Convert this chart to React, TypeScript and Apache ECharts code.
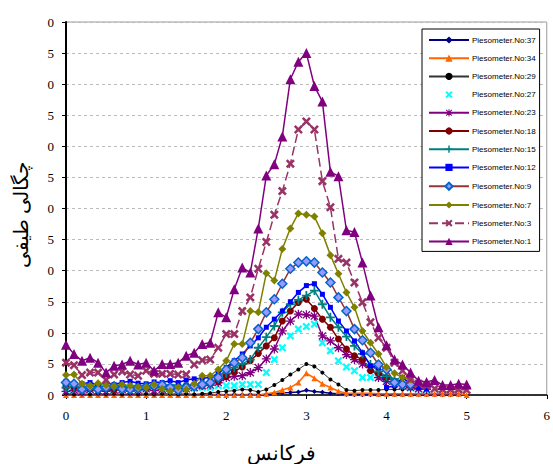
import React, { useEffect, useRef } from "react";
import * as echarts from "echarts";

const xs = [0, 0.1, 0.2, 0.3, 0.4, 0.5, 0.6, 0.7, 0.8, 0.9, 1, 1.1, 1.2, 1.3, 1.4, 1.5, 1.6, 1.7, 1.8, 1.9, 2, 2.1, 2.2, 2.3, 2.4, 2.5, 2.6, 2.7, 2.8, 2.9, 3, 3.1, 3.2, 3.3, 3.4, 3.5, 3.6, 3.7, 3.8, 3.9, 4, 4.1, 4.2, 4.3, 4.4, 4.5, 4.6, 4.7, 4.8, 4.9, 5];

const n = null;
const p37 = [0.1, 0.1, 0.05, 0.1, 0.05, 0.1, 0.05, 0.1, 0.05, 0.1, 0.05, 0.1, 0.05, 0.1, 0.05, 0.1, 0.05, 0.1, 0.05, 0.1, 0.05, 0.1, 0.05, 0.1, 0.05, 0.1, 0.2, 0.35, 0.4, 0.5, 0.75, 0.55, 0.45, 0.3, 0.2, 0.1, 0.05, 0.05, 0.05, 0.05, 0.05, 0.05, 0.05, 0.05, 0.05, 0.05, 0.05, 0.05, 0.05, 0.05, n];
const p34 = [0, 0, 0, 0, 0, 0, 0, 0, 0, 0, 0, 0, 0, 0, 0, 0, 0, 0, 0, 0, 0, 0, 0, 0, 0, 0.2, 0.4, 0.8, 1.2, 2.0, 3.5, 2.7, 1.8, 1.2, 0.6, 0.3, 0.3, 0.3, 0.3, 0.2, 0.2, 0.2, 0.2, 0.2, 0.2, 0.2, 0.2, 0.2, 0.2, 0.2, 0];
const p29 = [0.2, 0.1, 0.2, 0.1, 0.2, 0.1, 0.2, 0.1, 0.2, 0.1, 0.2, 0.1, 0.2, 0.2, 0.1, 0.2, 0.1, 0.2, 0.3, 0.5, 0.6, 0.7, 0.9, 0.8, 0.5, 0.9, 1.6, 2.4, 3.3, 4.1, 5.0, 4.6, 3.6, 2.5, 1.7, 0.8, 0.7, 0.8, 0.8, 0.8, 0.9, 0.9, 0.9, 1.0, 0.9, 0.9, n, n, n, n, n];
const p27 = [1.0, 0.8, 1.2, 0.9, 1.1, 1.3, 0.8, 1.0, 1.2, 0.9, 1.1, 1.4, 1.0, 0.9, 1.2, 1.3, 1.1, 1.2, 1.2, 1.5, 1.5, 1.5, 1.7, 1.7, 1.7, 3.6, 5.7, 7.6, 9.5, 10.6, 11.0, 11.4, 8.4, 7.1, 5.5, 4.5, 3.9, 2.8, 2.8, 3.3, 2.5, 2.0, 1.5, 1.2, 1.0, 0.9, n, n, n, n, n];
const p23 = [0.6, 0.8, 0.5, 0.9, 0.7, 0.6, 0.8, 0.9, 0.6, 0.8, 1.0, 0.7, 0.9, 1.1, 0.8, 1.0, 1.2, 1.5, 1.6, 2.0, 2.8, 3.0, 3.1, 3.6, 4.4, 5.8, 7.4, 10.3, 11.9, 13.0, 12.9, 12.7, 9.5, 8.7, 7.6, 6.5, 5.7, 5.0, 4.4, 2.8, 2.2, 1.8, 1.5, 1.2, 1.0, 0.9, n, n, n, n, n];
const p18 = [1.5, 1.2, 0.9, 1.0, 1.3, 1.1, 0.9, 1.2, 1.0, 1.3, 1.1, 1.4, 1.2, 1.0, 1.3, 1.5, 1.6, 1.5, 1.8, 2.2, 3.0, 3.8, 4.5, 5.5, 6.7, 7.9, 9.2, 11.9, 13.5, 14.9, 15.4, 13.9, 12.2, 10.9, 9.0, 7.4, 6.3, 5.7, 3.9, 3.5, 2.8, 2.2, 1.8, 1.5, n, n, n, n, n, n, n];
const p15 = [1.2, 1.3, 1.0, 1.2, 1.4, 1.1, 1.3, 1.2, 1.4, 1.5, 1.3, 1.2, 1.4, 1.6, 1.5, 1.4, 1.6, 1.8, 2.0, 2.6, 3.5, 4.4, 5.0, 5.7, 7.6, 9.3, 11.1, 13.3, 14.6, 15.3, 16.0, 16.8, 14.6, 12.5, 10.9, 9.4, 7.9, 6.6, 4.9, 3.8, 3.0, 2.6, 2.0, 1.8, 1.5, 1.2, n, n, n, n, n];
const p12 = [2.2, 1.5, 1.8, 2.0, 1.6, 1.9, 1.7, 2.0, 2.2, 1.9, 1.8, 2.1, 2.0, 2.3, 2.0, 2.4, 2.6, 2.7, 2.8, 3.5, 4.4, 5.5, 6.6, 7.9, 9.2, 10.9, 12.2, 13.5, 15.0, 16.5, 17.6, 17.9, 16.2, 14.1, 11.9, 10.3, 8.7, 6.8, 4.7, 4.4, 1.2, 1.5, 2.8, 1.8, 1.2, 1.0, n, n, n, n, n];
const p9 = [2.0, 1.8, 0.9, 1.3, 0.9, 1.2, 1.4, 1.0, 0.9, 1.1, 1.3, 1.5, 1.6, 1.2, 0.8, 1.2, 1.4, 1.7, 2.0, 2.8, 4.1, 5.2, 6.0, 8.4, 10.6, 13.3, 15.4, 17.9, 20.3, 21.3, 21.5, 21.3, 19.7, 18.1, 15.7, 13.5, 10.6, 8.8, 6.8, 4.9, 4.1, 2.0, 1.7, 1.7, n, n, n, n, n, n, n];
const p7 = [3.2, 3.3, 1.8, 1.5, 1.9, 1.6, 1.4, 1.7, 1.5, 1.3, 1.2, 1.7, 1.0, 0.6, 1.3, 0.9, 1.8, 3.1, 3.1, 4.1, 5.5, 8.2, 8.2, 13.5, 13.3, 19.6, 18.4, 23.5, 26.8, 29.2, 29.0, 28.7, 26.0, 22.5, 19.5, 16.5, 14.1, 10.3, 8.4, 6.6, 4.5, 3.5, 2.8, 2.5, n, n, n, n, n, n, n];
const p3 = [5.2, 4.8, 3.2, 3.6, 3.6, 2.4, 3.3, 3.8, 3.3, 3.1, 3.9, 3.4, 3.4, 3.4, 3.3, 3.3, 4.9, 5.6, 5.7, 7.6, 9.8, 9.8, 13.5, 15.7, 20.3, 24.6, 29.0, 32.8, 37.2, 42.7, 44.0, 42.7, 34.4, 30.2, 21.9, 21.3, 18.1, 14.9, 11.7, 9.2, 7.6, 5.2, 3.9, 2.5, 1.8, 1.5, 1.0, 0.9, 0.9, 0.9, 0.8];
const p1 = [8.1, 6.6, 5.5, 6.0, 5.2, 3.6, 4.7, 4.9, 5.5, 4.9, 5.2, 3.9, 5.0, 5.0, 5.2, 6.3, 6.8, 8.2, 8.4, 13.3, 12.5, 17.0, 20.5, 19.7, 26.8, 35.3, 37.1, 41.6, 50.8, 53.6, 55.0, 49.7, 47.2, 35.9, 35.2, 26.5, 26.2, 21.3, 16.0, 10.9, 8.0, 5.7, 4.9, 3.6, 2.3, 2.1, 2.4, 1.6, 1.6, 1.8, 1.7];

const names = ["Piesometer.No:37", "Piesometer.No:34", "Piesometer.No:29", "Piesometer.No:27", "Piesometer.No:23", "Piesometer.No:18", "Piesometer.No:15", "Piesometer.No:12", "Piesometer.No:9", "Piesometer.No:7", "Piesometer.No:3", "Piesometer.No:1"];

const xTicks = [0, 1, 2, 3, 4, 5, 6];

const X_SYM = "path://M0,2L2,0L5,3L8,0L10,2L7,5L10,8L8,10L5,7L2,10L0,8L3,5Z";
const PLUS_SYM = "path://M4,0H6V4H10V6H6V10H4V6H0V4H4Z";
const AST_SYM = "path://M4.3,0H5.7V4.3H10V5.7H5.7V10H4.3V5.7H0V4.3H4.3Z M0.5,1.5L1.5,0.5L5,4L8.5,0.5L9.5,1.5L6,5L9.5,8.5L8.5,9.5L5,6L1.5,9.5L0.5,8.5L4,5Z";

const SERIF = "serif";

const pair = (vals: (number | null)[]) => xs.map((x, i) => (vals[i] === null ? null : [x, vals[i]])).filter((d) => d !== null);

export default function App() {
  const ref = useRef<HTMLDivElement>(null);
  useEffect(() => {
    document.body.style.margin = "0";
    const chart = echarts.init(ref.current!, null, { renderer: "svg" });
    const mk = (name: string, vals: (number | null)[], color: string, symbol: string, size: number, extra: any = {}) => ({
      name,
      type: "line",
      data: pair(vals),
      symbol,
      symbolSize: size,
      showSymbol: true,
      lineStyle: { color, width: 1.5, ...(extra.lineStyle || {}) },
      itemStyle: { color, ...(extra.itemStyle || {}) },
      emphasis: { disabled: true },
    });
    const series = [
      mk(names[0], p37, "#000080", "diamond", 5),
      mk(names[1], p34, "#FF6600", "triangle", 6),
      mk(names[2], p29, "#000000", "circle", 4, { lineStyle: { color: "#333333", width: 1 } }),
      mk(names[3], p27, "#00FFFF", X_SYM, 8, { lineStyle: { width: 0 } }),
      mk(names[4], p23, "#800080", AST_SYM, 9),
      mk(names[5], p18, "#800000", "circle", 7),
      mk(names[6], p15, "#008080", PLUS_SYM, 9),
      mk(names[7], p12, "#0000FF", "rect", 5),
      mk(names[8], p9, "#993333", "diamond", 9, { itemStyle: { color: "#9999FF", borderColor: "#0066CC", borderWidth: 1.5 } }),
      mk(names[9], p7, "#808000", "diamond", 8),
      mk(names[10], p3, "#993366", X_SYM, 9, { lineStyle: { type: [9, 4] } }),
      mk(names[11], p1, "#800080", "triangle", 10),
    ];
    chart.setOption({
      animation: false,
      backgroundColor: "#ffffff",
      textStyle: { fontFamily: SERIF },
      grid: { left: 66, right: 3, top: 22, bottom: 69, show: true, borderColor: "#999999", borderWidth: 1 },
      legend: {
        orient: "vertical",
        left: 422,
        top: 29,
        width: 121,
        padding: [7, 4, 6, 6],
        itemWidth: 40,
        itemHeight: 9,
        itemGap: 10.2,
        borderColor: "#000000",
        borderWidth: 1,
        backgroundColor: "#ffffff",
        textStyle: { fontSize: 8, fontFamily: "sans-serif", color: "#000000", padding: [0, 0, 0, -2] },
        data: names,
      },
      xAxis: {
        type: "value",
        min: xTicks[0],
        max: xTicks[xTicks.length - 1],
        interval: 1,
        axisLine: { show: true, onZero: false, lineStyle: { color: "#000000", width: 1.5 } },
        axisTick: { show: true, length: 4, lineStyle: { color: "#000000" } },
        axisLabel: { fontSize: 13, margin: 14, color: "#000000", fontFamily: SERIF },
        splitLine: { show: false },
      },
      yAxis: {
        type: "value",
        min: 0,
        max: 60,
        interval: 5,
        axisLine: { show: true, lineStyle: { color: "#000000", width: 2 } },
        axisTick: { show: true, length: 4, lineStyle: { color: "#000000" } },
        axisLabel: {
          fontSize: 13,
          margin: 12,
          color: "#000000",
          fontFamily: SERIF,
          formatter: (v: number) => String(Math.round(v) % 10),
        },
        splitLine: { show: true, lineStyle: { color: "#bbbbbb", type: [3, 3], width: 1 } },
      },
      graphic: [
        {
          type: "text",
          x: 281,
          y: 453,
          style: { text: "فرکانس", fontSize: 20, fill: "#000000", align: "center", verticalAlign: "middle", fontFamily: SERIF },
        },
        {
          type: "text",
          x: 21,
          y: 215,
          rotation: Math.PI / 2,
          style: { text: "چگالی طیفی", fontSize: 20, fill: "#000000", align: "center", verticalAlign: "middle", fontFamily: SERIF },
        },
      ],
      series,
    });
    return () => chart.dispose();
  }, []);
  return <div ref={ref} style={{ width: 553, height: 464 }} />;
}
